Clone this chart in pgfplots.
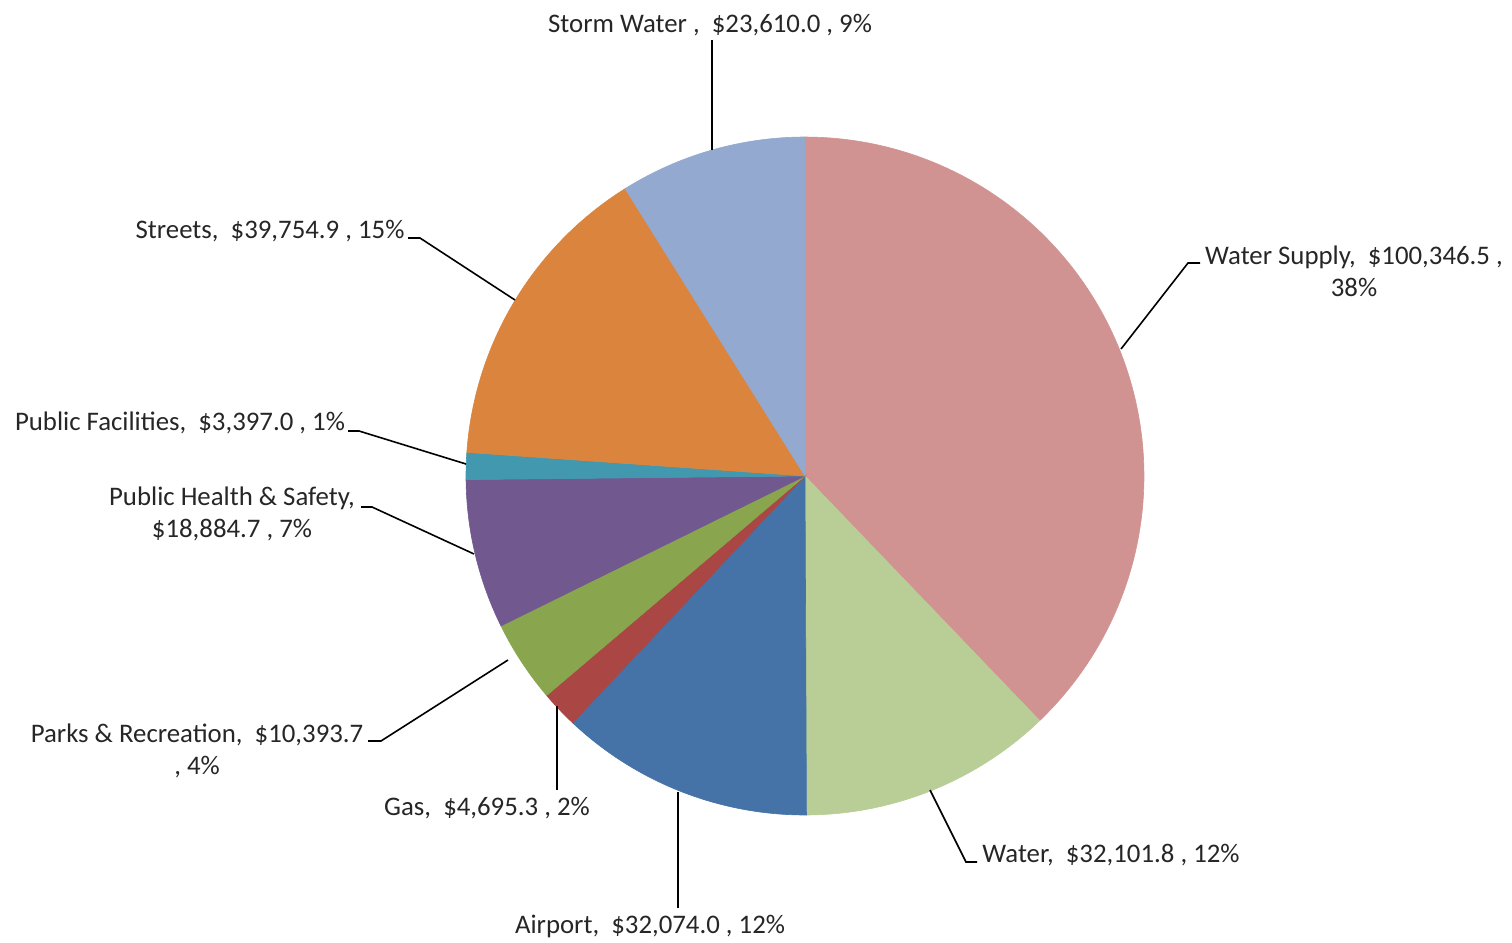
\documentclass[border=0pt]{standalone}
\usepackage{pgfplots}
\pgfplotsset{compat=1.18}
\usepackage{fontspec}
\setmainfont{Carlito}
\definecolor{cWS}{HTML}{D19392}
\definecolor{cW}{HTML}{B9CD96}
\definecolor{cAir}{HTML}{4572A7}
\definecolor{cGas}{HTML}{AA4643}
\definecolor{cPark}{HTML}{89A54E}
\definecolor{cPHS}{HTML}{71588F}
\definecolor{cPF}{HTML}{4198AF}
\definecolor{cSt}{HTML}{DB843D}
\definecolor{cSW}{HTML}{93A9CF}
\definecolor{txt}{HTML}{262626}
\tikzset{lbl/.style={anchor=base, align=center, font=\fontsize{13.4}{16}\selectfont, text=txt, inner sep=0pt}}
% values in thousands of dollars (clockwise from 12 o'clock)
\def\vWS{100.3465}\def\vW{32.1018}\def\vAir{32.0740}\def\vGas{4.6953}
\def\vPark{10.3937}\def\vPHS{18.8847}\def\vPF{3.3970}\def\vSt{39.7549}\def\vSW{23.6100}
\pgfmathsetmacro\tot{\vWS+\vW+\vAir+\vGas+\vPark+\vPHS+\vPF+\vSt+\vSW}
\pgfmathsetmacro\aA{90}
\pgfmathsetmacro\aB{\aA-\vWS/\tot*360}
\pgfmathsetmacro\aC{\aB-\vW/\tot*360}
\pgfmathsetmacro\aD{\aC-\vAir/\tot*360}
\pgfmathsetmacro\aE{\aD-\vGas/\tot*360}
\pgfmathsetmacro\aF{\aE-\vPark/\tot*360}
\pgfmathsetmacro\aG{\aF-\vPHS/\tot*360}
\pgfmathsetmacro\aH{\aG-\vPF/\tot*360}
\pgfmathsetmacro\aI{\aH-\vSt/\tot*360}
\pgfmathsetmacro\aJ{-270}
\newcommand\slice[3]{%
  \addplot[draw=#3, fill=#3, line width=0.3pt, domain=#2:#1, samples=100, variable=\t]
    ({805+339*cos(\t)},{476-339*sin(\t)}) -- (axis cs:805,476) -- cycle;}
\begin{document}
\begin{tikzpicture}
\begin{axis}[
  width=756pt, height=471.5pt, scale only axis,
  xmin=0, xmax=1512, ymin=0, ymax=943, y dir=reverse,
  hide axis, clip=false,
]
\path (axis cs:0,0) rectangle (axis cs:1512,943);
\slice{\aA}{\aB}{cWS}
\slice{\aB}{\aC}{cW}
\slice{\aC}{\aD}{cAir}
\slice{\aD}{\aE}{cGas}
\slice{\aE}{\aF}{cPark}
\slice{\aF}{\aG}{cPHS}
\slice{\aG}{\aH}{cPF}
\slice{\aH}{\aI}{cSt}
\slice{\aI}{\aJ}{cSW}
% leader lines
\addplot[black, line width=0.8pt] coordinates {(712,40) (712,150)};
\addplot[black, line width=0.8pt] coordinates {(1121,349) (1188,263) (1200,263)};
\addplot[black, line width=0.8pt] coordinates {(408,238) (420,238) (515,300)};
\addplot[black, line width=0.8pt] coordinates {(348,431) (359,431) (466,464)};
\addplot[black, line width=0.8pt] coordinates {(361,507) (372,507) (474,554)};
\addplot[black, line width=0.8pt] coordinates {(368,741) (381,741) (508,660)};
\addplot[black, line width=0.8pt] coordinates {(557,706) (557,790)};
\addplot[black, line width=0.8pt] coordinates {(678,792) (678,908)};
\addplot[black, line width=0.8pt] coordinates {(930,790) (966,862) (977,862)};
% labels (multi-line nodes: base = baseline of last line)
\node[lbl] at (axis cs:710,32) {Storm Water ,\ \ \$23,610.0 , 9\%};
\node[lbl] at (axis cs:1354,296) {Water Supply,\ \ \$100,346.5 ,\\38\%};
\node[lbl] at (axis cs:270,238) {Streets,\ \ \$39,754.9 , 15\%};
\node[lbl] at (axis cs:180,430) {Public Facilities,\ \ \$3,397.0 , 1\%};
\node[lbl] at (axis cs:232,537) {Public Health \& Safety,\\\$18,884.7 , 7\%};
\node[lbl] at (axis cs:197,774) {Parks \& Recreation,\ \ \$10,393.7\\, 4\%};
\node[lbl] at (axis cs:487,815) {Gas,\ \ \$4,695.3 , 2\%};
\node[lbl] at (axis cs:650,933) {Airport,\ \ \$32,074.0 , 12\%};
\node[lbl] at (axis cs:1111,862) {Water,\ \ \$32,101.8 , 12\%};
\end{axis}
\end{tikzpicture}
\end{document}
